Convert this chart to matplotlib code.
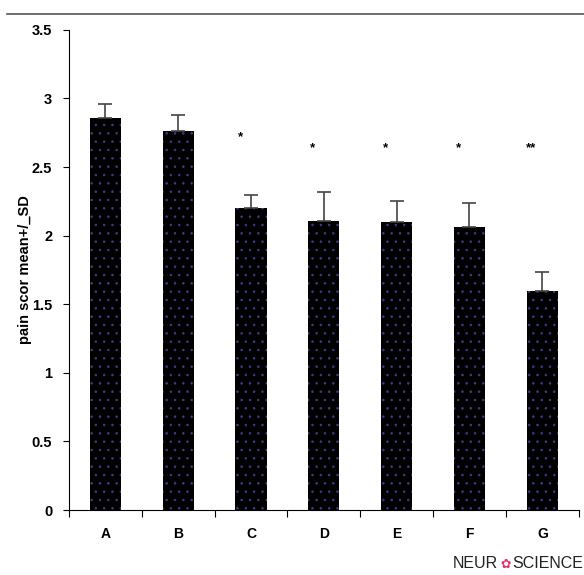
import numpy as np
import matplotlib
matplotlib.use("Agg")
import matplotlib.pyplot as plt
from matplotlib.lines import Line2D

# values
groups = ["A", "B", "C", "D", "E", "F", "G"]
means = [2.86, 2.76, 2.20, 2.11, 2.10, 2.06, 1.60]
sd = [0.10, 0.12, 0.10, 0.21, 0.155, 0.18, 0.135]
marks = ["", "", "*", "*", "*", "*", "**"]
mark_y = [0, 0, 2.72, 2.64, 2.64, 2.64, 2.64]

plt.rcParams["font.family"] = ["Liberation Sans", "DejaVu Sans"]
plt.rcParams["hatch.color"] = "#3c3c8c"
plt.rcParams["hatch.linewidth"] = 0.6

fig = plt.figure(figsize=(5.84, 5.75), dpi=100)
ax = fig.add_axes([0.118, 0.113, 0.873, 0.835])

x = np.arange(len(groups)) + 0.5
ax.bar(x, means, width=0.43, color="black", edgecolor="#3c3c8c",
       linewidth=0, hatch="..", zorder=2)
ax.errorbar(x, means, yerr=[np.zeros(len(sd)), sd], fmt="none",
            ecolor="#444444", elinewidth=1.2, capsize=5, capthick=1.2, zorder=3)

for xi, m, yy in zip(x, marks, mark_y):
    if m:
        ax.text(xi - 0.15, yy, m, ha="center", va="center", fontsize=9.5,
                fontweight="bold")

ax.set_xlim(0, len(groups))
ax.set_ylim(0, 3.5)
ax.set_yticks([0, 0.5, 1, 1.5, 2, 2.5, 3, 3.5])
ax.set_yticklabels(["0", "0.5", "1", "1.5", "2", "2.5", "3", "3.5"],
                   fontsize=10.5, fontweight="bold")
ax.set_xticks(np.arange(len(groups) + 1))
ax.set_xticklabels([])
ax.set_xticks(x, minor=True)
ax.set_xticklabels(groups, minor=True, fontsize=10, fontweight="bold")
ax.tick_params(axis="x", which="major", length=5, direction="out")
ax.tick_params(axis="x", which="minor", length=0, pad=12)
ax.tick_params(axis="y", length=4, direction="out", pad=8)
ax.spines["top"].set_visible(False)
ax.spines["right"].set_visible(False)
ax.set_ylabel("pain scor mean+/_SD", fontsize=10.5, fontweight="bold", labelpad=0)

# thin grey rule at the top
fig.add_artist(Line2D([0.012, 1.0], [0.975, 0.975], color="#555555", lw=1.2))

# journal logo
fig.text(0.776, 0.012, "NEUR", fontsize=11.5, color="#222222", va="baseline")
fig.text(0.866, 0.012, "\u273f", fontsize=9, color="#e0306a", va="baseline",
         family="DejaVu Sans", ha="center")
fig.text(0.999, 0.012, "SCIENCE", fontsize=11.5, color="#222222", va="baseline",
         ha="right")

fig.savefig("out.png", dpi=100)
